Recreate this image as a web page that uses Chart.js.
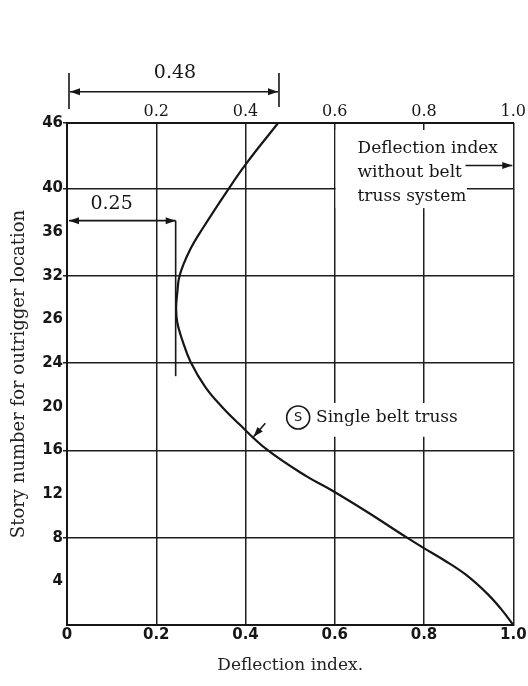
<!DOCTYPE html>
<html>
<head>
<meta charset="utf-8">
<script src="https://cdn.jsdelivr.net/npm/chart.js@4"></script>
<style>
  html, body { margin: 0; padding: 0; background: #ffffff; }
  #wrap { width: 528px; height: 686px; position: relative; }
</style>
</head>
<body>
<div id="wrap"><canvas id="c" width="528" height="686"></canvas></div>
<script>
// ---------- data ----------
const storyNumber = [46, 42.3, 39.9, 36.4, 34.4, 32.07, 30.4, 29.0, 27.7, 26.1, 24.1, 21.8, 20.0, 18.48, 16.04, 13.59, 12.37, 10.4, 8.0, 7.16, 5.89, 4.63, 2.9, 1.5, 0];
const deflectionSingleBelt = [0.473, 0.402, 0.361, 0.305, 0.276, 0.2527, 0.247, 0.2445, 0.2473, 0.2584, 0.277, 0.310, 0.347, 0.384, 0.449, 0.538, 0.592, 0.671, 0.762, 0.795, 0.847, 0.893, 0.941, 0.972, 1.0];

const xTickValues = [0, 0.2, 0.4, 0.6, 0.8, 1.0];
const xTickLabels = ['0', '0.2', '0.4', '0.6', '0.8', '1.0'];
const xTopTickValues = [0.2, 0.4, 0.6, 0.8, 1.0];
const xTopTickLabels = ['0.2', '0.4', '0.6', '0.8', '1.0'];
const xGridValues = [0.2, 0.4, 0.6, 0.8, 1.0];
const yTickValues = [4, 8, 12, 16, 20, 24, 28, 32, 36, 40, 46];
const yTickLabels = ['4', '8', '12', '16', '20', '24', '26', '32', '36', '40', '46'];
const yGridValues = [8, 16, 24, 32, 40, 46];

// dimension markers (data units)
const dimTopValue = 0.475;      // "0.48" marker
const dimTopLabel = '0.48';
const dimMinValue = 0.2435;     // "0.25" marker
const dimMinLabel = '0.25';
const dimMinStory = 37.05;
const dimMinLineEndStory = 22.8;

const noteLines = ['Deflection index', 'without belt', 'truss system'];
const seriesNote = 'Single belt truss';
const seriesTag = 'S';

// ---------- annotation plugin ----------
const SERIF = '"DejaVu Serif", serif';
const INK = '#161616';

function arrowHead(ctx, x1, y1, x2, y2, len, half) {
  const a = Math.atan2(y2 - y1, x2 - x1);
  ctx.beginPath();
  ctx.moveTo(x2, y2);
  ctx.lineTo(x2 - len * Math.cos(a) + half * Math.sin(a), y2 - len * Math.sin(a) - half * Math.cos(a));
  ctx.lineTo(x2 - len * Math.cos(a) - half * Math.sin(a), y2 - len * Math.sin(a) + half * Math.cos(a));
  ctx.closePath();
  ctx.fill();
}
function arrow(ctx, x1, y1, x2, y2, both) {
  ctx.beginPath();
  ctx.moveTo(x1, y1); ctx.lineTo(x2, y2); ctx.stroke();
  arrowHead(ctx, x1, y1, x2, y2, 10, 3.5);
  if (both) arrowHead(ctx, x2, y2, x1, y1, 10, 3.5);
}

const annotations = {
  id: 'annotations',
  beforeDatasetsDraw(chart) {
    const { ctx } = chart;
    const xs = chart.scales.x, ys = chart.scales.y;
    const boxes = [
      { x0: 0.602, x1: 0.896, y0: 45.36, y1: 38.2 },
      { x0: 0.484, x1: 0.878, y0: 20.34, y1: 17.25 }
    ];
    ctx.save();
    ctx.fillStyle = '#ffffff';
    boxes.forEach(b => {
      const xa = xs.getPixelForValue(b.x0), xb = xs.getPixelForValue(b.x1);
      const ya = ys.getPixelForValue(b.y0), yb = ys.getPixelForValue(b.y1);
      ctx.fillRect(Math.min(xa, xb), Math.min(ya, yb), Math.abs(xb - xa), Math.abs(yb - ya));
    });
    ctx.restore();
  },
  afterDatasetsDraw(chart) {
    const { ctx, chartArea } = chart;
    const xs = chart.scales.x, ys = chart.scales.y;
    const px = v => xs.getPixelForValue(v);
    const py = v => ys.getPixelForValue(v);
    ctx.save();
    ctx.strokeStyle = INK;
    ctx.fillStyle = INK;
    ctx.lineWidth = 1.6;

    // "0.48" dimension above the plot
    const top = chartArea.top;
    const xa = px(0) + 2, xb = px(dimTopValue);
    ctx.beginPath();
    ctx.moveTo(xa, top - 50); ctx.lineTo(xa, top - 14);
    ctx.moveTo(xb, top - 50); ctx.lineTo(xb, top - 16);
    ctx.stroke();
    arrow(ctx, xa + 1, top - 31.3, xb - 1, top - 31.3, true);
    ctx.font = '19px ' + SERIF;
    ctx.textAlign = 'center';
    ctx.textBaseline = 'middle';
    ctx.fillText(dimTopLabel, px(0.242), top - 50);

    // "0.25" dimension inside the plot
    const yDim = py(dimMinStory);
    arrow(ctx, px(0) + 2, yDim, px(dimMinValue), yDim, true);
    ctx.beginPath();
    ctx.moveTo(px(dimMinValue), yDim);
    ctx.lineTo(px(dimMinValue), py(dimMinLineEndStory));
    ctx.stroke();
    ctx.fillText(dimMinLabel, px(0.1), py(38.53));

    // note: deflection index without belt truss system
    ctx.font = '17px ' + SERIF;
    ctx.textAlign = 'left';
    const noteStories = [43.62, 41.47, 39.22];
    noteLines.forEach((t, i) => ctx.fillText(t, px(0.651), py(noteStories[i])));
    arrow(ctx, px(0.893), py(42.1), px(1.0) - 1, py(42.1), false);

    // series tag (S) Single belt truss
    const cx = px(0.518), cy = py(19.01);
    ctx.beginPath();
    ctx.arc(cx, cy, 11.5, 0, Math.PI * 2);
    ctx.stroke();
    ctx.fillText(seriesNote, px(0.558), cy);
    ctx.font = '13px "DejaVu Sans", sans-serif';
    ctx.textAlign = 'center';
    ctx.fillText(seriesTag, cx, cy + 0.5);
    arrow(ctx, px(0.4444), py(18.49), px(0.418), py(17.25), false);

    ctx.restore();
  }
};

// ---------- chart ----------
const points = storyNumber.map((s, i) => ({ x: deflectionSingleBelt[i], y: s }));

new Chart(document.getElementById('c').getContext('2d'), {
  type: 'line',
  data: {
    datasets: [{
      label: 'Single belt truss',
      data: points,
      borderColor: INK,
      borderWidth: 2.2,
      pointRadius: 0,
      tension: 0.4,
      fill: false
    }]
  },
  options: {
    indexAxis: 'y',
    responsive: false,
    animation: false,
    devicePixelRatio: 1,
    layout: { padding: { left: 0, right: 11, top: 0, bottom: 0 } },
    plugins: { legend: { display: false }, tooltip: { enabled: false } },
    scales: {
      x: {
        type: 'linear', position: 'bottom', min: 0, max: 1,
        afterBuildTicks: s => { s.ticks = xTickValues.map(v => ({ value: v })); },
        afterFit: s => { s.height = 61; },
        ticks: {
          autoSkip: false, maxRotation: 0, minRotation: 0, padding: 1,
          color: INK,
          font: { family: '"DejaVu Sans", sans-serif', size: 15, weight: 'bold' },
          callback: (v, i) => xTickLabels[i]
        },
        grid: {
          drawTicks: false, lineWidth: 1.5,
          color: c => (c.tick && xGridValues.includes(c.tick.value)) ? '#1e1e1e' : 'rgba(0,0,0,0)'
        },
        border: { display: true, color: INK, width: 2 },
        title: {
          display: true, text: 'Deflection index.', color: '#222',
          font: { family: SERIF, size: 17 },
          padding: { top: 0, bottom: 10 }
        }
      },
      x2: {
        type: 'linear', position: 'top', min: 0, max: 1,
        afterBuildTicks: s => { s.ticks = xTopTickValues.map(v => ({ value: v })); },
        afterFit: s => { s.height = 123; },
        ticks: {
          autoSkip: false, maxRotation: 0, minRotation: 0, padding: 2,
          color: INK,
          font: { family: SERIF, size: 16 },
          callback: (v, i) => xTopTickLabels[i]
        },
        grid: { display: false, drawTicks: false },
        border: { display: true, color: INK, width: 2 }
      },
      y: {
        type: 'linear', position: 'left', min: 0, max: 46,
        afterBuildTicks: s => { s.ticks = yTickValues.map(v => ({ value: v })); },
        afterFit: s => { s.width = 67; },
        ticks: {
          autoSkip: false, padding: 0,
          color: INK,
          font: { family: '"DejaVu Sans", sans-serif', size: 15, weight: 'bold' },
          callback: (v, i) => yTickLabels[i]
        },
        grid: {
          drawTicks: true, tickLength: 4, lineWidth: 1.5,
          color: c => (c.tick && yGridValues.includes(c.tick.value)) ? '#1e1e1e' : 'rgba(0,0,0,0)'
        },
        border: { display: true, color: INK, width: 2 },
        title: {
          display: true, text: 'Story number for outrigger location', color: '#222',
          font: { family: SERIF, size: 18 },
          padding: { top: 9, bottom: 0 }
        }
      }
    }
  },
  plugins: [annotations]
});
</script>
</body>
</html>
